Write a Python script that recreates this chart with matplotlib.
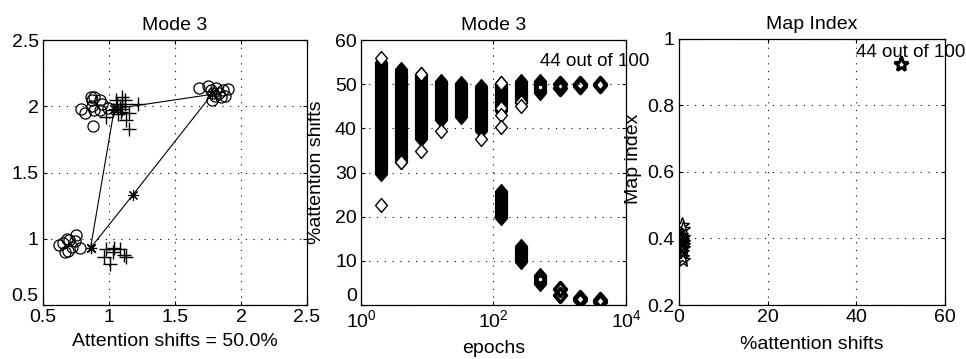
import matplotlib
matplotlib.use("Agg")
import matplotlib.pyplot as plt
from matplotlib.path import Path as MPath

plt.rcParams["font.family"] = ["Liberation Sans", "DejaVu Sans"]
plt.rcParams["mathtext.fontset"] = "custom"
plt.rcParams["mathtext.rm"] = "Liberation Sans"
FS = 14
plt.rcParams["font.size"] = FS

# --- panel 1: two-mode map -------------------------------------------------
CIRC_X = [0.87, 0.87, 0.79, 0.82, 0.89, 0.93, 0.99, 0.93, 0.89, 0.88, 0.86, 0.95,
          0.62, 0.68, 0.75, 0.78, 0.67, 0.72, 0.70, 0.65, 0.74, 0.69,
          1.68, 1.75, 1.77, 1.80, 1.78, 1.83, 1.86, 1.88, 1.90, 1.85, 1.81, 1.79]
CIRC_Y = [2.05, 2.00, 1.98, 1.95, 1.97, 2.05, 1.99, 1.97, 2.07, 1.85, 2.07, 2.02,
          0.95, 1.00, 1.03, 0.93, 0.90, 0.94, 0.99, 0.97, 0.98, 0.91,
          2.14, 2.15, 2.12, 2.08, 2.05, 2.10, 2.12, 2.08, 2.13, 2.07, 2.14, 2.10]
PLUS_X = [1.05, 1.10, 1.12, 1.08, 1.15, 1.13, 1.15, 0.98, 1.03, 1.07, 1.10, 1.22,
          1.12, 1.06, 1.09,
          0.96, 1.03, 1.11, 1.01, 1.13, 1.04, 1.08, 0.98]
PLUS_Y = [2.05, 2.07, 2.02, 2.00, 1.95, 1.90, 1.83, 1.92, 1.97, 1.94, 1.98, 2.02,
          2.05, 2.02, 1.96,
          0.86, 0.90, 0.88, 0.81, 0.86, 0.93, 0.92, 0.92]
PATH_X = [0.86, 1.04, 1.78, 1.18, 0.86]
PATH_Y = [0.93, 1.98, 2.09, 1.33, 0.93]

# --- panel 2: % attention shifts vs epochs ---------------------------------
BAND_EPOCHS = [2, 4, 8, 16, 32, 64, 128, 256, 512, 128, 256, 512]
BAND_LO = [29.7, 32.4, 37.6, 41.8, 42.5, 39.5, 44.0, 45.8, 47.9, 19.7, 9.8, 4.8]
BAND_HI = [55.0, 53.4, 52.3, 50.7, 50.3, 49.5, 50.3, 50.7, 50.7, 25.9, 13.3, 6.9]
DOT_EPOCHS = [512, 512]
DOT_Y = [49.3, 5.9]
RING_EPOCHS = [1024, 2048, 4096, 1024, 2048, 4096]
RING_LO = [49.1, 49.5, 49.7, 2.2, 1.1, 0.6]
RING_HI = [50.1, 50.1, 50.1, 3.6, 1.6, 1.1]
OPEN_EPOCHS = [2, 2, 4, 8, 8, 16, 64, 128, 128, 128, 128, 256, 256]
OPEN_Y = [56.0, 22.7, 32.4, 52.3, 34.8, 39.3, 37.6, 50.3, 44.6, 43.0, 40.3, 46.0, 45.0]

# --- panel 3: map index vs % attention shifts ------------------------------
STAR_X = [0.7, 0.8, 0.5, 0.9, 0.4, 0.7, 1.0, 0.6, 0.8, 0.5, 0.9, 0.7, 0.6, 0.8]
STAR_Y = [0.44, 0.43, 0.41, 0.405, 0.40, 0.395, 0.39, 0.385, 0.38, 0.375, 0.37,
          0.36, 0.345, 0.335]
BIG_STAR_X = [50.0]
BIG_STAR_Y = [0.925]

NOTE = "44 out of 100"

DIAMOND = MPath([(0, 1), (0.85, 0), (0, -1), (-0.85, 0), (0, 1)], closed=True)
GRID = dict(color="k", linestyle=(0, (1, 6)), linewidth=0.8)


def style_axes(ax):
    ax.tick_params(direction="in", length=3, width=0.8, top=True, right=True, pad=3)
    for s in ax.spines.values():
        s.set_linewidth(0.9)
    ax.grid(True, **GRID)
    ax.set_axisbelow(True)


fig = plt.figure(figsize=(9.66, 3.59), dpi=100)
W, H = 966, 359


def add_ax(left, top, w, h):
    return fig.add_axes([left / W, (H - top - h) / H, w / W, h / H])


# panel 1
ax1 = add_ax(43, 40, 264, 265)
ax1.plot(PATH_X, PATH_Y, color="k", lw=0.8, marker=(8, 2, 0), ms=8, mew=0.8, zorder=3)
ax1.plot(CIRC_X, CIRC_Y, ls="none", marker="o", ms=8, mfc="none", mec="k", mew=0.9)
ax1.plot(PLUS_X, PLUS_Y, ls="none", marker="+", ms=10, mec="k", mew=1.0)
ax1.set_xlim(0.5, 2.5)
ax1.set_ylim(0.5, 2.5)
ticks = [0.5, 1, 1.5, 2, 2.5]
ax1.set_xticks(ticks)
ax1.set_yticks(ticks)
ax1.set_xticklabels(["0.5", "1", "1.5", "2", "2.5"])
ax1.set_yticklabels(["0.5", "1", "1.5", "2", "2.5"])
style_axes(ax1)
ax1.get_yticklabels()[0].set_va("bottom")
ax1.set_title("Mode 3", fontsize=FS, pad=7)
ax1.set_xlabel("Attention shifts = 50.0%", fontsize=FS)
ax1.xaxis.set_label_coords(0.5, -0.105)

# panel 2
ax2 = add_ax(361, 40, 265, 265)
ax2.set_xscale("log")
ax2.vlines(BAND_EPOCHS, BAND_LO, BAND_HI, colors="k", lw=9.5, capstyle="butt", zorder=2)
ax2.plot(BAND_EPOCHS + BAND_EPOCHS, BAND_LO + BAND_HI, ls="none", marker=DIAMOND,
         ms=10, mfc="k", mec="k", mew=1, zorder=2)
ax2.plot(DOT_EPOCHS, DOT_Y, ls="none", marker="o", ms=2.5, mfc="w", mec="none", zorder=3)
ax2.plot(RING_EPOCHS + RING_EPOCHS, RING_LO + RING_HI, ls="none", marker=DIAMOND,
         ms=10, mfc="none", mec="k", mew=2.6, zorder=3)
ax2.plot(OPEN_EPOCHS, OPEN_Y, ls="none", marker=DIAMOND, ms=10, mfc="w", mec="k",
         mew=1, zorder=4)
ax2.set_xlim(1, 1e4)
ax2.set_ylim(0, 60)
ax2.set_xticks([1, 100, 10000])
ax2.xaxis.set_minor_locator(matplotlib.ticker.NullLocator())
ax2.set_yticks(range(0, 61, 10))
ax2.set_yticklabels([str(v) for v in range(0, 61, 10)])
style_axes(ax2)
ax2.get_yticklabels()[0].set_va("bottom")
ax2.text(500, 55.2, NOTE, fontsize=13.5, va="center", ha="left", clip_on=False, zorder=5)
ax2.set_title("Mode 3", fontsize=FS, pad=7)
ax2.set_xlabel("epochs", fontsize=FS)
ax2.xaxis.set_label_coords(0.5, -0.132)
ax2.set_ylabel("%attention shifts", fontsize=FS)
ax2.yaxis.set_label_coords(-0.135, 0.5)

# panel 3
ax3 = add_ax(679, 39, 266, 266)
ax3.plot(STAR_X, STAR_Y, ls="none", marker="*", ms=11, mfc="none", mec="k", mew=1.0)
ax3.plot(BIG_STAR_X, BIG_STAR_Y, ls="none", marker="*", ms=11, mfc="none", mec="k", mew=2.2)
ax3.set_xlim(0, 60)
ax3.set_ylim(0.2, 1)
ax3.set_xticks([0, 20, 40, 60])
ax3.set_yticks([0.2, 0.4, 0.6, 0.8, 1.0])
ax3.set_yticklabels(["0.2", "0.4", "0.6", "0.8", "1"])
style_axes(ax3)
ax3.text(40.0, 0.958, NOTE, fontsize=13.5, va="center", ha="left", clip_on=False, zorder=5)
ax3.set_title("Map Index", fontsize=FS, pad=7)
ax3.set_xlabel("%attention shifts", fontsize=FS)
ax3.xaxis.set_label_coords(0.5, -0.117)
ax3.set_ylabel("Map index", fontsize=FS)
ax3.yaxis.set_label_coords(-0.14, 0.55)

fig.savefig("out.png", dpi=100)
